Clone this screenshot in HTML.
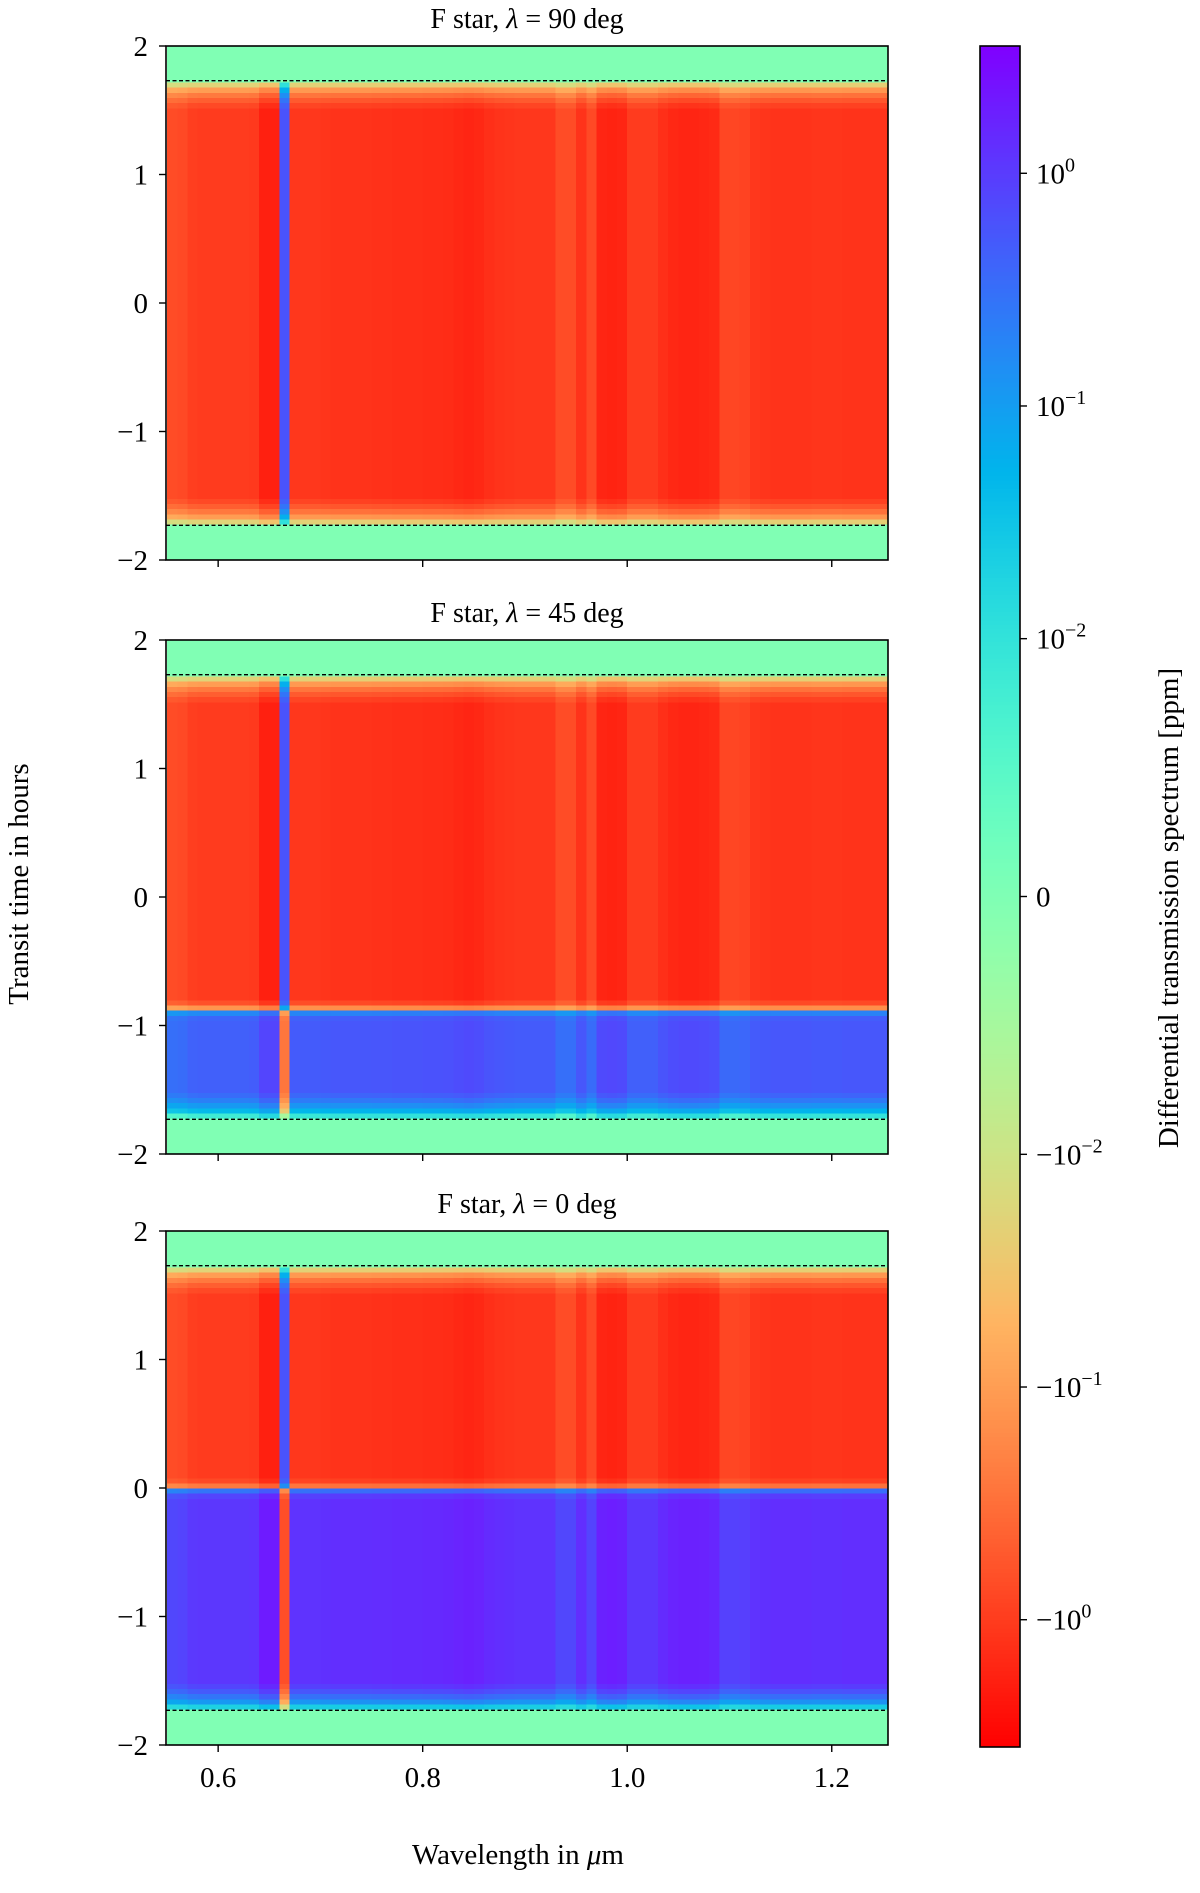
<!DOCTYPE html>
<html><head><meta charset="utf-8">
<style>
body{margin:0;background:#fff;}
svg text{font-family:"Liberation Serif","DejaVu Serif",serif;fill:#000;}
</style></head>
<body>
<svg id="chart" width="1200" height="1888" viewBox="0 0 1200 1888" xmlns="http://www.w3.org/2000/svg">
<g id="panels"></g>
<g id="cbar"></g>
<text x="0" y="0" font-size="29" text-anchor="middle" transform="translate(28,884) rotate(-90)">Transit time in hours</text>
<text x="518" y="1864" font-size="29" text-anchor="middle">Wavelength in <tspan font-style="italic">μ</tspan>m</text>
<text x="0" y="0" font-size="29" text-anchor="middle" transform="translate(1178,908) rotate(-90)">Differential transmission spectrum [ppm]</text>
</svg>
<script>
// ---- data ----
const wlStart = 0.55, wlStep = 0.01;
// absorption magnitude per 0.01 µm bin (0.55 .. 1.26)
const absorb = [0.7,0.75,0.95,1.0,1.0,1.0,1.0,1.0,1.05,1.8,1.8,-0.6,1.1,1.1,1.1,1.15,1.2,1.2,1.2,1.2,1.25,1.25,1.3,1.3,1.3,1.35,1.35,1.4,1.5,1.6,1.5,1.3,1.2,1.15,1.1,1.1,1.1,1.1,0.7,0.7,1.2,0.75,1.6,1.7,1.6,1.0,1.0,1.0,1.3,1.5,1.6,1.6,1.55,1.45,0.8,0.8,0.85,1.1,1.15,1.2,1.2,1.2,1.2,1.15,1.15,1.15,1.2,1.2,1.2,1.2,1.2];
const panelTitles = ["90","45","0"];
const boundaryT = [-9, -0.87, 0.0];   // below this time the signal is positive
const posScale = [0, 0.45, 1.1];
const contactT = 1.73;
const yTicks = [-2,-1,0,1,2];
const xTicks = [0.6,0.8,1.0,1.2];
const xTickLabels = ["0.6","0.8","1.0","1.2"];
const cbTicks = [1,0.1,0.01,0,-0.01,-0.1,-1];
const cbTickExp = ["0","−1","−2","","−2","−1","0"];

// ---- geometry ----
const L=166,R=888,xmin=0.549,xmax=1.255;
const panelTops=[46,640,1231], PH=514;
const NS="http://www.w3.org/2000/svg";
const X=v=>L+(v-xmin)/(xmax-xmin)*(R-L);
function mk(tag,attrs,parent){const e=document.createElementNS(NS,tag);for(const k in attrs)e.setAttribute(k,attrs[k]);parent.appendChild(e);return e;}
const LT=0.01,LS=1.108,PMAX=3.655;
function spos(v){const a=Math.abs(v);const p=a<LT?LS*a/LT:LS+Math.log10(a/LT);return Math.sign(v)*p;}
function color(v){let f=(spos(v)+PMAX)/(2*PMAX);f=Math.max(0,Math.min(1,f));const x=1-f;
 const r=Math.min(1,Math.abs(2*x-0.5)),g=Math.sin(Math.PI*x),b=Math.cos(Math.PI*x/2);
 return `rgb(${Math.round(r*255)},${Math.round(Math.max(0,g)*255)},${Math.round(Math.max(0,b)*255)})`;}

const panels=document.getElementById('panels');
const NR=100;
panelTitles.forEach((lam,pi)=>{
 const top=panelTops[pi], Y=t=>top+(2-t)/4*PH;
 const g=mk('g',{},panels);
 
 
 const hm=mk('g',{'shape-rendering':'crispEdges'},g);
 
 
 for(let r=0;r<NR;r++){
  const t0=-2+r*4/NR, t1=t0+4/NR, t=(t0+t1)/2;
  const y1=Y(t1), y0=Y(t0);
  for(let c=0;c<absorb.length;c++){
   const w0=wlStart+c*wlStep, w1=w0+wlStep;
   const x0=X(Math.max(w0,xmin)), x1=X(Math.min(w1,xmax));
   if(x1<=x0) continue;
   let v=0;
   if(Math.abs(t)<contactT){
    const fe=Math.min(1,(contactT-Math.abs(t))/0.22);
    const fb=Math.min(1,Math.abs(t-boundaryT[pi])/0.08);
    const a=absorb[c];
    const pos=t<boundaryT[pi];
    v = pos ? a*posScale[pi] : -a;
    v*=fe*fe*fb;
   }
   const rc=mk('rect',{x:x0.toFixed(2),y:y1.toFixed(2),width:(x1-x0+0.6).toFixed(2),height:(y0-y1+0.6).toFixed(2),fill:color(v)},hm);
   
   
  }
 }
 [contactT,-contactT].forEach(tc=>{
  const d=mk('line',{x1:L,x2:R,y1:Y(tc),y2:Y(tc),stroke:'#000','stroke-width':1.3,'stroke-dasharray':'4,2.5'},g);
  
  
 });
 const fr=mk('rect',{x:L,y:top,width:R-L,height:PH,fill:'none',stroke:'#000','stroke-width':1.6},g);
 
 
 yTicks.forEach(v=>{
  mk('line',{x1:L-7,x2:L,y1:Y(v),y2:Y(v),stroke:'#000','stroke-width':1.4},g);
  const tx=mk('text',{x:L-18,y:Y(v)+10,'font-size':29,'text-anchor':'end'},g);
  tx.textContent=(v<0?'−':'')+Math.abs(v);
  
  
 });
 xTicks.forEach((v,i)=>{
  mk('line',{x1:X(v),x2:X(v),y1:top+PH,y2:top+PH+7,stroke:'#000','stroke-width':1.4},g);
  if(pi==2){const tx=mk('text',{x:X(v),y:top+PH+42,'font-size':29,'text-anchor':'middle'},g);
   tx.textContent=xTickLabels[i];
   
   }
 });
 const ti=mk('text',{x:(L+R)/2,y:top-18,'font-size':28,'text-anchor':'middle'},g);
 ti.innerHTML='F star, <tspan font-style="italic">λ</tspan> = '+lam+' deg';
 
 
});

// colorbar
const cb=document.getElementById('cbar');
const CL=980,CR=1020,CT=46,CB=1747;
const CY=v=>(CT+CB)/2-spos(v)/PMAX*(CB-CT)/2;
const cg=mk('g',{'shape-rendering':'crispEdges'},cb);


for(let i=0;i<400;i++){
 const p0=-PMAX+i*2*PMAX/400, pm=p0+PMAX/400;
 const a=pm>=0?1:-1, m=Math.abs(pm);
 const v=a*(m<LS?m/LS*LT:LT*Math.pow(10,m-LS));
 const y=(CT+CB)/2-(p0+2*PMAX/400)/PMAX*(CB-CT)/2;
 mk('rect',{x:CL,y:y.toFixed(2),width:CR-CL,height:((CB-CT)/400+0.6).toFixed(2),fill:color(v)},cg);
}
mk('rect',{x:CL,y:CT,width:CR-CL,height:CB-CT,fill:'none',stroke:'#000','stroke-width':1.6},cb);
cbTicks.forEach((v,i)=>{
 const y=CY(v);
 mk('line',{x1:CR,x2:CR+7,y1:y,y2:y,stroke:'#000','stroke-width':1.4},cb);
 const tx=mk('text',{x:CR+16,y:y+10,'font-size':29},cb);
 if(v===0) tx.textContent='0';
 else tx.innerHTML=(v<0?'−':'')+'10<tspan dy="-12" font-size="20">'+cbTickExp[i]+'</tspan>';
 
 
});
</script>
</body></html>
